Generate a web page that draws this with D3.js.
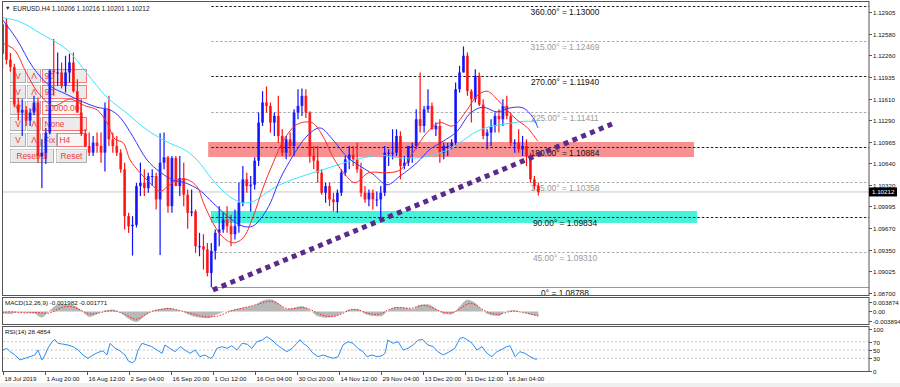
<!DOCTYPE html>
<html>
<head>
<meta charset="utf-8">
<script src="https://cdn.jsdelivr.net/npm/d3@7"></script>
<style>
body { margin: 0; background: #fff; }
svg { display: block; font-family: "Liberation Sans", Arial, sans-serif; }
</style>
</head>
<body>
<script>
// daily bars (day 0 = 18 Jul 2019)
var barOpen = [1.1228,1.1272,1.1219,1.1208,1.1152,1.1140,1.1144,1.1128,1.1140,1.1155,1.1075,1.1080,1.1110,1.1203,1.1200,1.1200,1.1180,1.1200,1.1215,1.1172,
  1.1140,1.1108,1.1090,1.1080,1.1095,1.1090,1.1080,1.1145,1.1100,1.1090,1.1080,1.1055,1.0985,1.0970,1.0972,1.1030,1.1035,1.1027,1.1045,1.1045,
  1.1010,1.1065,1.1073,1.1000,1.1072,1.1030,1.1042,1.1017,1.0990,1.0992,1.0940,1.0940,1.0935,1.0900,1.0933,1.0960,1.0965,1.0980,1.0970,1.0958,
  1.0970,1.1005,1.1040,1.1030,1.1032,1.1068,1.1125,1.1155,1.1150,1.1125,1.1135,1.1105,1.1080,1.1100,1.1090,1.1140,1.1150,1.1165,1.1140,1.1075,
  1.1068,1.1050,1.1020,1.1030,1.1010,1.1006,1.1020,1.1050,1.1070,1.1077,1.1070,1.1055,1.1020,1.1010,1.1020,1.1010,1.1010,1.1020,1.1080,1.1080,
  1.1080,1.1105,1.1060,1.1065,1.1090,1.1090,1.1130,1.1120,1.1145,1.1150,1.1115,1.1120,1.1080,1.1090,1.1090,1.1095,1.1175,1.1200,1.1225,1.1172,
  1.1160,1.1195,1.1152,1.1105,1.1110,1.1120,1.1135,1.1130,1.1150,1.1135,1.1095,1.1095,1.1085,1.1090,1.1075,1.1040,1.1030];
var barHigh = [1.1283,1.1281,1.1229,1.1213,1.1162,1.1160,1.1150,1.1146,1.1165,1.1162,1.1100,1.1117,1.1205,1.1250,1.1230,1.1215,1.1225,1.1228,1.1230,1.1190,
  1.1160,1.1115,1.1110,1.1105,1.1110,1.1110,1.1155,1.1165,1.1110,1.1105,1.1085,1.1065,1.0990,1.0985,1.1035,1.1065,1.1055,1.1050,1.1055,1.1050,
  1.1109,1.1110,1.1075,1.1075,1.1075,1.1075,1.1065,1.1025,1.1025,1.0995,1.0960,1.0958,1.0945,1.0945,1.0965,1.1000,1.0990,1.1000,1.0987,1.0995,
  1.1035,1.1060,1.1050,1.1045,1.1073,1.1140,1.1172,1.1179,1.1155,1.1140,1.1165,1.1115,1.1105,1.1110,1.1145,1.1175,1.1176,1.1175,1.1142,1.1090,
  1.1090,1.1055,1.1035,1.1035,1.1020,1.1025,1.1055,1.1075,1.1090,1.1090,1.1095,1.1065,1.1030,1.1025,1.1025,1.1022,1.1030,1.1090,1.1085,1.1115,
  1.1115,1.1112,1.1075,1.1090,1.1095,1.1145,1.1200,1.1150,1.1175,1.1155,1.1125,1.1130,1.1095,1.1095,1.1100,1.1185,1.1210,1.1239,1.1230,1.1175,
  1.1205,1.1200,1.1160,1.1115,1.1130,1.1140,1.1145,1.1160,1.1165,1.1140,1.1100,1.1115,1.1105,1.1100,1.1080,1.1045,1.1035];
var barLow = [1.1206,1.1212,1.1201,1.1148,1.1128,1.1105,1.1120,1.1120,1.1136,1.1065,1.1027,1.1063,1.1107,1.1165,1.1180,1.1176,1.1170,1.1185,1.1170,1.1140,
  1.1105,1.1088,1.1075,1.1075,1.1080,1.1065,1.1052,1.1090,1.1080,1.1075,1.1050,1.0965,1.0960,1.0926,1.0968,1.1015,1.1015,1.1020,1.1030,1.0995,
  1.0927,1.1055,1.0990,1.0990,1.1030,1.1015,1.1000,1.0966,1.0985,1.0930,1.0925,1.0905,1.0895,1.0879,1.0920,1.0940,1.0960,1.0960,1.0940,1.0950,
  1.0960,1.1000,1.1020,1.0992,1.1025,1.1060,1.1120,1.1140,1.1110,1.1105,1.1095,1.1075,1.1070,1.1075,1.1075,1.1130,1.1135,1.1132,1.1065,1.1055,
  1.1035,1.1017,1.1005,1.1000,1.0992,1.0990,1.1015,1.1045,1.1055,1.1060,1.1050,1.1014,1.1005,1.1000,1.0995,1.1000,1.0981,1.1015,1.1060,1.1070,
  1.1075,1.1040,1.1055,1.1060,1.1065,1.1085,1.1110,1.1110,1.1140,1.1115,1.1105,1.1065,1.1070,1.1075,1.1085,1.1090,1.1170,1.1200,1.1165,1.1125,
  1.1155,1.1150,1.1100,1.1085,1.1090,1.1110,1.1110,1.1120,1.1130,1.1090,1.1080,1.1080,1.1075,1.1060,1.1035,1.1025,1.1016];
var barClose = [1.1272,1.1219,1.1208,1.1152,1.1140,1.1144,1.1128,1.1140,1.1155,1.1075,1.1080,1.1110,1.1203,1.1200,1.1200,1.1180,1.1200,1.1215,1.1172,1.1140,
  1.1108,1.1090,1.1080,1.1095,1.1090,1.1080,1.1145,1.1100,1.1090,1.1080,1.1055,1.0985,1.0970,1.0972,1.1030,1.1035,1.1027,1.1045,1.1045,1.1010,
  1.1065,1.1073,1.1000,1.1072,1.1030,1.1042,1.1017,1.0990,1.0992,1.0940,1.0940,1.0935,1.0900,1.0933,1.0960,1.0965,1.0980,1.0970,1.0958,1.0970,
  1.1005,1.1040,1.1030,1.1032,1.1068,1.1125,1.1155,1.1150,1.1125,1.1135,1.1105,1.1080,1.1100,1.1090,1.1140,1.1150,1.1165,1.1140,1.1075,1.1068,
  1.1050,1.1020,1.1030,1.1010,1.1006,1.1020,1.1050,1.1070,1.1077,1.1070,1.1055,1.1020,1.1010,1.1020,1.1010,1.1010,1.1020,1.1080,1.1080,1.1080,
  1.1105,1.1060,1.1065,1.1090,1.1090,1.1130,1.1120,1.1145,1.1150,1.1115,1.1120,1.1080,1.1090,1.1090,1.1095,1.1175,1.1200,1.1225,1.1172,1.1160,
  1.1195,1.1152,1.1105,1.1110,1.1120,1.1135,1.1130,1.1150,1.1135,1.1095,1.1095,1.1085,1.1090,1.1075,1.1040,1.1030,1.1021];

// moving averages, [day, price]
var maRed = [[0,1.1244],[3,1.1234],[6,1.1200],[9,1.1170],[13,1.1150],[17,1.1160],[21,1.1150],[24,1.1144],[26.5,1.1125],[28.6,1.1100],
  [30.6,1.1095],[32.4,1.1069],[34.9,1.1050],[37.4,1.1035],[40,1.1022],[41.8,1.1029],[44.3,1.1039],[46.8,1.1040],[49.4,1.1029],[51,1.1005],
  [53.4,1.0975],[55.7,1.0955],[58.5,1.0945],[61,1.0952],[63.6,1.0984],[66.1,1.1027],[68.7,1.1065],[71.5,1.1100],[74.7,1.1122],[78.5,1.1125],
  [81,1.1108],[84,1.1072],[87.4,1.1044],[89.5,1.1035],[93,1.1050],[97.6,1.1050],[100.9,1.1054],[104.2,1.1080],[107.7,1.1110],[111,1.1125],
  [114.3,1.1120],[117.9,1.1144],[120.4,1.1165],[123,1.1172],[125.5,1.1160],[128,1.1144],[130.6,1.1129],[133.1,1.1118],[135.9,1.1097]];
var maBlue = [[0,1.1279],[3.7,1.1249],[7.7,1.1208],[12,1.1180],[16,1.1168],[20.4,1.1156],[24,1.1148],[27.3,1.1144],[29.8,1.1133],[33.1,1.1104],
  [36.7,1.1069],[40,1.1051],[43.3,1.1039],[46.3,1.1035],[50,1.1024],[53.4,1.1005],[57.7,1.0982],[61,1.0970],[63.5,1.0970],[66,1.0985],
  [68,1.1005],[70.4,1.1040],[73.7,1.1075],[77.3,1.1105],[80.6,1.1117],[83.9,1.1099],[87.4,1.1074],[90.7,1.1060],[94,1.1048],[97.6,1.1032],
  [100.9,1.1045],[105.2,1.1065],[108.5,1.1085],[111.8,1.1097],[115.4,1.1112],[118.7,1.1139],[121.9,1.1148],[125.5,1.1141],[128.8,1.1147],
  [132.1,1.1147],[134.6,1.1133],[135.9,1.1117]];
var maCyan = [[0,1.1282],[4.4,1.1276],[9.5,1.1259],[16.4,1.1234],[21.4,1.1199],[26.5,1.1163],[31.6,1.1139],[36.7,1.1114],[41.8,1.1096],
  [46.3,1.1084],[49.4,1.1069],[53.4,1.1039],[57.7,1.1014],[61,1.1005],[64,1.1008],[67,1.1020],[70.4,1.1032],[74.7,1.1042],[78.8,1.1050],
  [83.1,1.1058],[87.4,1.1066],[92,1.1073],[96,1.1076],[100.9,1.1072],[107.7,1.1074],[112.8,1.1084],[116.1,1.1095],[120.4,1.1112],
  [124.5,1.1120],[128.8,1.1124],[133.1,1.1127],[135.9,1.1125]];

// MACD(12,26,9), one value every 2 days
var macdMain = [-0.0008,-0.0010,-0.0003,-0.0005,-0.0008,-0.0025,0.0005,0.0028,0.0030,0.0025,0.0005,-0.0022,-0.0010,0.0005,0.0008,-0.0005,-0.0030,-0.0043,
  -0.0020,0.0002,0.0010,0.0015,0.0008,-0.0003,-0.0018,-0.0025,-0.0028,-0.0015,-0.0002,0.0005,0.0012,0.0018,0.0025,0.0045,0.0050,0.0035,0.0010,0.0015,
  0.0022,0.0005,-0.0020,-0.0026,-0.0022,-0.0008,0.0008,0.0010,-0.0010,-0.0018,-0.0020,0.0005,0.0018,0.0015,0.0010,0.0028,0.0030,0.0012,-0.0010,-0.0012,
  0.0020,0.0048,0.0035,0.0002,-0.0015,-0.0018,0.0003,0.0005,-0.0003,-0.0012,-0.0020];
var macdSignal = [-0.0004,0,-0.0004,-0.0007,-0.0004,-0.0005,-0.0010,0.0010,0.0022,0.0020,0.0005,-0.0014,-0.0008,0,0.0004,-0.0004,-0.0020,-0.0038,
  -0.0015,0.0003,0.0007,0.0014,0.0008,0,-0.0008,-0.0018,-0.0023,-0.0022,-0.0012,0.0003,0.0011,0.0018,0.0026,0.0035,0.0045,0.0032,0.0008,0.0011,
  0.0018,0.0011,-0.0008,-0.0020,-0.0022,-0.0012,0.0007,0.0011,-0.0005,-0.0012,-0.0013,0.0010,0.0018,0.0015,0.0011,0.0026,0.0024,0.0008,-0.0005,-0.0008,
  0.0008,0.0035,0.0032,0.0004,-0.0008,-0.0015,-0.0002,0.0003,-0.0004,-0.0011,-0.0018];

// RSI(14), [day, value]
var rsi = [[0.1,50],[1.1,54],[1.9,46],[3.2,38],[4.4,26],[5.7,30],[7.0,34],[8.2,38],[9.0,50],[10.0,26],[10.8,38],[11.5,54],[12.6,70],[13.3,75],
  [14.1,66],[15.4,64],[16.6,62],[17.9,58],[19.2,50],[20.4,38],[21.7,30],[23.0,38],[24.2,44],[25.5,48],[26.5,38],[27.3,66],[28.6,54],[29.8,48],
  [31.1,38],[31.9,24],[32.9,19],[33.6,24],[34.4,50],[35.4,66],[36.7,62],[37.9,58],[39.2,50],[40.5,42],[41.2,62],[42.5,54],[43.8,46],[45.1,58],
  [46.3,50],[47.6,42],[48.9,50],[50.1,34],[51.4,38],[52.7,30],[53.4,34],[54.4,54],[55.7,58],[57.0,54],[58.2,60],[59.5,50],[60.8,66],[62.1,64],
  [63.3,54],[64.6,70],[65.9,74],[67.1,82],[68.4,74],[69.7,62],[70.9,54],[72.2,46],[73.5,54],[74.7,66],[75.5,75],[76.3,66],[77.5,58],[78.8,42],
  [80.1,34],[81.4,38],[82.6,34],[83.9,30],[85.2,34],[86.4,62],[87.7,70],[89.0,66],[90.2,54],[91.5,46],[92.5,34],[93.8,38],[95.1,34],[96.3,36],
  [97.1,42],[97.8,74],[99.1,66],[100.4,70],[101.7,50],[102.9,54],[104.2,62],[105.5,74],[106.7,75],[108.0,62],[109.3,58],[110.5,46],[111.8,38],
  [113.1,44],[114.8,54],[116.1,78],[116.9,80],[118.1,74],[119.2,66],[120.4,50],[121.7,58],[123.0,42],[124.2,34],[125.5,46],[126.8,52],[128.0,58],
  [128.8,60],[130.1,34],[131.3,46],[132.6,42],[133.9,34],[135.2,28],[135.7,28.5]];

// fibonacci fan levels
var fibDegrees = [0, 45, 90, 135, 180, 225, 270, 315, 360];
var fibPrices = [1.08788, 1.09310, 1.09834, 1.10358, 1.10884, 1.11411, 1.11940, 1.12469, 1.13000];
var fibStartDay = 53;

// zones (red, cyan) and trend line
var zoneDays = [[52.2, 175.5], [52.9, 176.3]];
var zonePrices = [[1.10735, 1.10960], [1.09748, 1.09927]];
var trendDays = [53.4, 154.7];
var trendPrices = [1.08745, 1.11229];

var priceTicks = [1.12905,1.12580,1.12260,1.11935,1.11610,1.11290,1.10965,1.10640,1.10320,1.09995,1.09670,1.09350,1.09025,1.08700];
var macdTicks = [0.003874, 0, -0.003894];
var rsiTicks = [100, 70, 50, 30, 0];
var rsiLevels = [70, 50, 30];
var dateLabels = ["18 Jul 2019","1 Aug 20:00","16 Aug 12:00","2 Sep 04:00","16 Sep 20:00","1 Oct 12:00","16 Oct 04:00",
  "30 Oct 20:00","14 Nov 12:00","29 Nov 04:00","13 Dec 20:00","31 Dec 12:00","16 Jan 04:00"];
var dateDays = [0,10.833,21.5,32.167,42.833,53.5,64.167,74.833,85.5,96.167,106.833,117.5,128.167];
var lastPrice = 1.10212;

var W = 900, H = 387;
var svg = d3.select("body").append("svg").attr("width", W).attr("height", H);

var x = d3.scaleLinear().domain([0, 200]).range([2.5, 2.5 + 3.94 * 200]);
var y = d3.scaleLinear().domain([1.08700, 1.12905]).range([293, 12]);
var yMacd = d3.scaleLinear().domain([-0.003894, 0.003874]).range([321, 302]);
var yRsi = d3.scaleLinear().domain([0, 100]).range([370.8, 329.2]);

var axisX = 869;
var defs = svg.append("defs");
defs.append("clipPath").attr("id", "cMain").append("rect").attr("x", 3).attr("y", 2).attr("width", axisX - 3).attr("height", 293);
defs.append("clipPath").attr("id", "cMacd").append("rect").attr("x", 3).attr("y", 298).attr("width", axisX - 3).attr("height", 26);
defs.append("clipPath").attr("id", "cRsi").append("rect").attr("x", 3).attr("y", 327).attr("width", axisX - 3).attr("height", 44);

svg.append("rect").attr("x", 0).attr("y", 383).attr("width", W).attr("height", 4).attr("fill", "#f0f0f0");

var main = svg.append("g").attr("clip-path", "url(#cMain)");

// zones
var zoneColors = ["#f79090", "#48f2d8"];
main.selectAll(".zone").data(zoneDays).enter().append("rect")
  .attr("x", function(d){ return x(d[0]); })
  .attr("width", function(d){ return x(d[1]) - x(d[0]); })
  .attr("y", function(d, i){ return y(zonePrices[i][1]); })
  .attr("height", function(d, i){ return y(zonePrices[i][0]) - y(zonePrices[i][1]); })
  .attr("fill", function(d, i){ return zoneColors[i]; });

// bid line
main.append("line").attr("x1", 3).attr("x2", axisX).attr("y1", y(lastPrice)).attr("y2", y(lastPrice))
  .attr("stroke", "#c8c8c8").attr("stroke-width", 1);

// fib levels
fibPrices.forEach(function(p, i){
  var deg = fibDegrees[i];
  var strong = deg % 90 == 0 && deg > 0;
  var yy = Math.round(y(p)) + 0.5;
  main.append("line").attr("x1", x(fibStartDay)).attr("x2", axisX).attr("y1", yy).attr("y2", yy)
    .attr("stroke", deg == 0 ? "#999" : (strong ? "#222" : "#aaa"))
    .attr("stroke-width", 1)
    .attr("stroke-dasharray", deg == 0 ? null : "2.5,2");
  main.append("text").attr("x", 565).attr("y", yy + 8).attr("text-anchor", "middle")
    .attr("font-size", 8.4).attr("fill", (strong || deg == 0) ? "#111" : "#9a9a9a")
    .text(deg == 0 ? "0\u00b0 = " + p.toFixed(5) : deg.toFixed(2) + "\u00b0 = " + p.toFixed(5));
});

// MT4 style buttons on the chart background
function button(g, bx, by, bw, bh, label){
  g.append("rect").attr("x", bx + 0.5).attr("y", by + 0.5).attr("width", bw).attr("height", bh)
    .attr("fill", "#e9e9e9").attr("stroke", "#9c9c9c").attr("stroke-width", 0.8);
  g.append("path").attr("d", "M" + (bx + 1) + "," + (by + bh) + "V" + (by + 1) + "H" + (bx + bw))
    .attr("fill", "none").attr("stroke", "#fff").attr("stroke-width", 0.8);
  g.append("text").attr("x", bx + bw / 2 + 0.5).attr("y", by + bh - 3).attr("text-anchor", "middle")
    .attr("font-size", 8.4).attr("fill", "#f03c3c").text(label);
}
function box(g, bx, by, bw, bh, label, fill){
  g.append("rect").attr("x", bx + 0.5).attr("y", by + 0.5).attr("width", bw).attr("height", bh)
    .attr("fill", fill).attr("stroke", "#ff5a5a").attr("stroke-width", 0.8);
  g.append("text").attr("x", bx + 2.5).attr("y", by + bh - 3).attr("font-size", 8.4).attr("fill", "#f03c3c").text(label);
}
var btn = main.append("g");
var rowTop = [69, 85, 101, 117];
var rowBox = ["90", "90", "10000.00", "None"];
rowTop.forEach(function(t, i){
  button(btn, 10, t, 15, 13, "V");
  button(btn, 27, t, 13, 13, "\u039b");
  if (i == 3) button(btn, 42, t, 44, 13, "");
  box(btn, 42, t, i == 2 ? 38 : 44, 13, rowBox[i], i == 2 ? "#f6f6f6" : "#ececec");
});
button(btn, 10, 133, 15, 13, "V");
button(btn, 27, 133, 13, 13, "\u039b");
button(btn, 42, 133, 14, 13, "Fix");
box(btn, 57, 133, 29, 13, "H4", "#f6f6f6");
button(btn, 10, 149, 43, 13, "ResetAll");
button(btn, 56, 149, 30, 13, "Reset");

// candles
var bullColor = "#1010ff", bearColor = "#ff1010";
var bars = barClose.map(function(c, i){ return {i: i, o: barOpen[i], h: barHigh[i], l: barLow[i], c: c}; });
main.selectAll(".wick").data(bars).enter().append("line")
  .attr("x1", function(d){ return x(d.i); }).attr("x2", function(d){ return x(d.i); })
  .attr("y1", function(d){ return y(d.h); }).attr("y2", function(d){ return y(d.l); })
  .attr("stroke", function(d){ return d.c >= d.o ? bullColor : bearColor; })
  .attr("stroke-width", 1.2);
main.selectAll(".body").data(bars).enter().append("rect")
  .attr("x", function(d){ return x(d.i) - 1.4; }).attr("width", 2.8)
  .attr("y", function(d){ return Math.min(y(d.o), y(d.c)); })
  .attr("height", function(d){ return Math.max(1, Math.abs(y(d.o) - y(d.c))); })
  .attr("fill", function(d){ return d.c >= d.o ? bullColor : bearColor; })
  .attr("opacity", 0.85);

// moving averages
var maLine = d3.line().x(function(d){ return x(d[0]); }).y(function(d){ return y(d[1]); }).curve(d3.curveCatmullRom.alpha(0.5));
[[maCyan, "#38e6ff"], [maBlue, "#3434ff"], [maRed, "#ff2a2a"]].forEach(function(m){
  main.append("path").datum(m[0]).attr("d", maLine).attr("fill", "none").attr("stroke", m[1]).attr("stroke-width", 1);
});

// trend line
main.append("line")
  .attr("x1", x(trendDays[0])).attr("y1", y(trendPrices[0]))
  .attr("x2", x(trendDays[1])).attr("y2", y(trendPrices[1]))
  .attr("stroke", "#5c2a88").attr("stroke-width", 5).attr("stroke-dasharray", "5,4.5");

// header
svg.append("text").attr("x", 5).attr("y", 10).attr("font-size", 5.5).attr("fill", "#222").text("\u25bc");
svg.append("text").attr("x", 13).attr("y", 10.5).attr("font-size", 6.4).attr("fill", "#111")
  .text("EURUSD.H4  1.10206  1.10216  1.10201  1.10212");

// MACD panel
var macdG = svg.append("g").attr("clip-path", "url(#cMacd)");
var macdArea = d3.area().x(function(d, i){ return x(i * 2); }).y0(yMacd(0)).y1(function(d){ return yMacd(d); }).curve(d3.curveMonotoneX);
macdG.append("path").datum(macdMain).attr("d", macdArea).attr("fill", "#b8b8b8");
macdG.append("path").datum(macdSignal)
  .attr("d", d3.line().x(function(d, i){ return x(i * 2); }).y(function(d){ return yMacd(d); }).curve(d3.curveBasis))
  .attr("fill", "none").attr("stroke", "#ff2020").attr("stroke-width", 1).attr("stroke-dasharray", "1.5,1.5");
svg.append("text").attr("x", 5).attr("y", 305).attr("font-size", 6.2).attr("fill", "#111")
  .text("MACD(12,26,9) -0.001982 -0.001771");

// RSI panel
var rsiG = svg.append("g").attr("clip-path", "url(#cRsi)");
rsiLevels.forEach(function(v){
  rsiG.append("line").attr("x1", 3).attr("x2", axisX).attr("y1", yRsi(v)).attr("y2", yRsi(v))
    .attr("stroke", "#bdbdbd").attr("stroke-width", 0.8).attr("stroke-dasharray", "2,2");
});
rsiG.append("path").datum(rsi)
  .attr("d", d3.line().x(function(d){ return x(d[0]); }).y(function(d){ return yRsi(d[1]); }))
  .attr("fill", "none").attr("stroke", "#2c8cf0").attr("stroke-width", 1);
svg.append("text").attr("x", 5).attr("y", 334).attr("font-size", 6.2).attr("fill", "#111").text("RSI(14) 28.4854");

// frames
var frame = svg.append("g").attr("fill", "none").attr("stroke", "#555").attr("stroke-width", 1);
frame.append("rect").attr("x", 2.5).attr("y", 1.5).attr("width", axisX - 2.5).attr("height", 294);
frame.append("rect").attr("x", 2.5).attr("y", 297.5).attr("width", axisX - 2.5).attr("height", 27);
frame.append("rect").attr("x", 2.5).attr("y", 326.5).attr("width", axisX - 2.5).attr("height", 45);

// right axes
var axisG = svg.append("g").attr("font-size", 6.2).attr("fill", "#111");
function rightTicks(values, scale, fmt){
  values.forEach(function(v){
    var yy = Math.round(scale(v)) + 0.5;
    axisG.append("line").attr("x1", axisX).attr("x2", axisX + 3).attr("y1", yy).attr("y2", yy).attr("stroke", "#555");
    axisG.append("text").attr("x", axisX + 4).attr("y", yy + 2.2).text(fmt(v));
  });
}
rightTicks(priceTicks, y, function(v){ return v.toFixed(5); });
rightTicks(macdTicks, yMacd, function(v){ return v == 0 ? "0.00" : v.toFixed(6); });
rightTicks(rsiTicks, yRsi, function(v){ return String(v); });

// last price tag
var ly = y(lastPrice);
svg.append("rect").attr("x", axisX).attr("y", ly - 4.5).attr("width", 28).attr("height", 9).attr("fill", "#000");
svg.append("text").attr("x", axisX + 3).attr("y", ly + 2.3).attr("font-size", 6.2).attr("fill", "#fff").text(lastPrice.toFixed(5));

// date axis
dateLabels.forEach(function(t, i){
  var xx = Math.round(x(dateDays[i])) + 0.5;
  svg.append("line").attr("x1", xx).attr("x2", xx).attr("y1", 372).attr("y2", 375).attr("stroke", "#555");
  svg.append("text").attr("x", xx + 1).attr("y", 381).attr("font-size", 6.2).attr("fill", "#111").text(t);
});
</script>
</body>
</html>
